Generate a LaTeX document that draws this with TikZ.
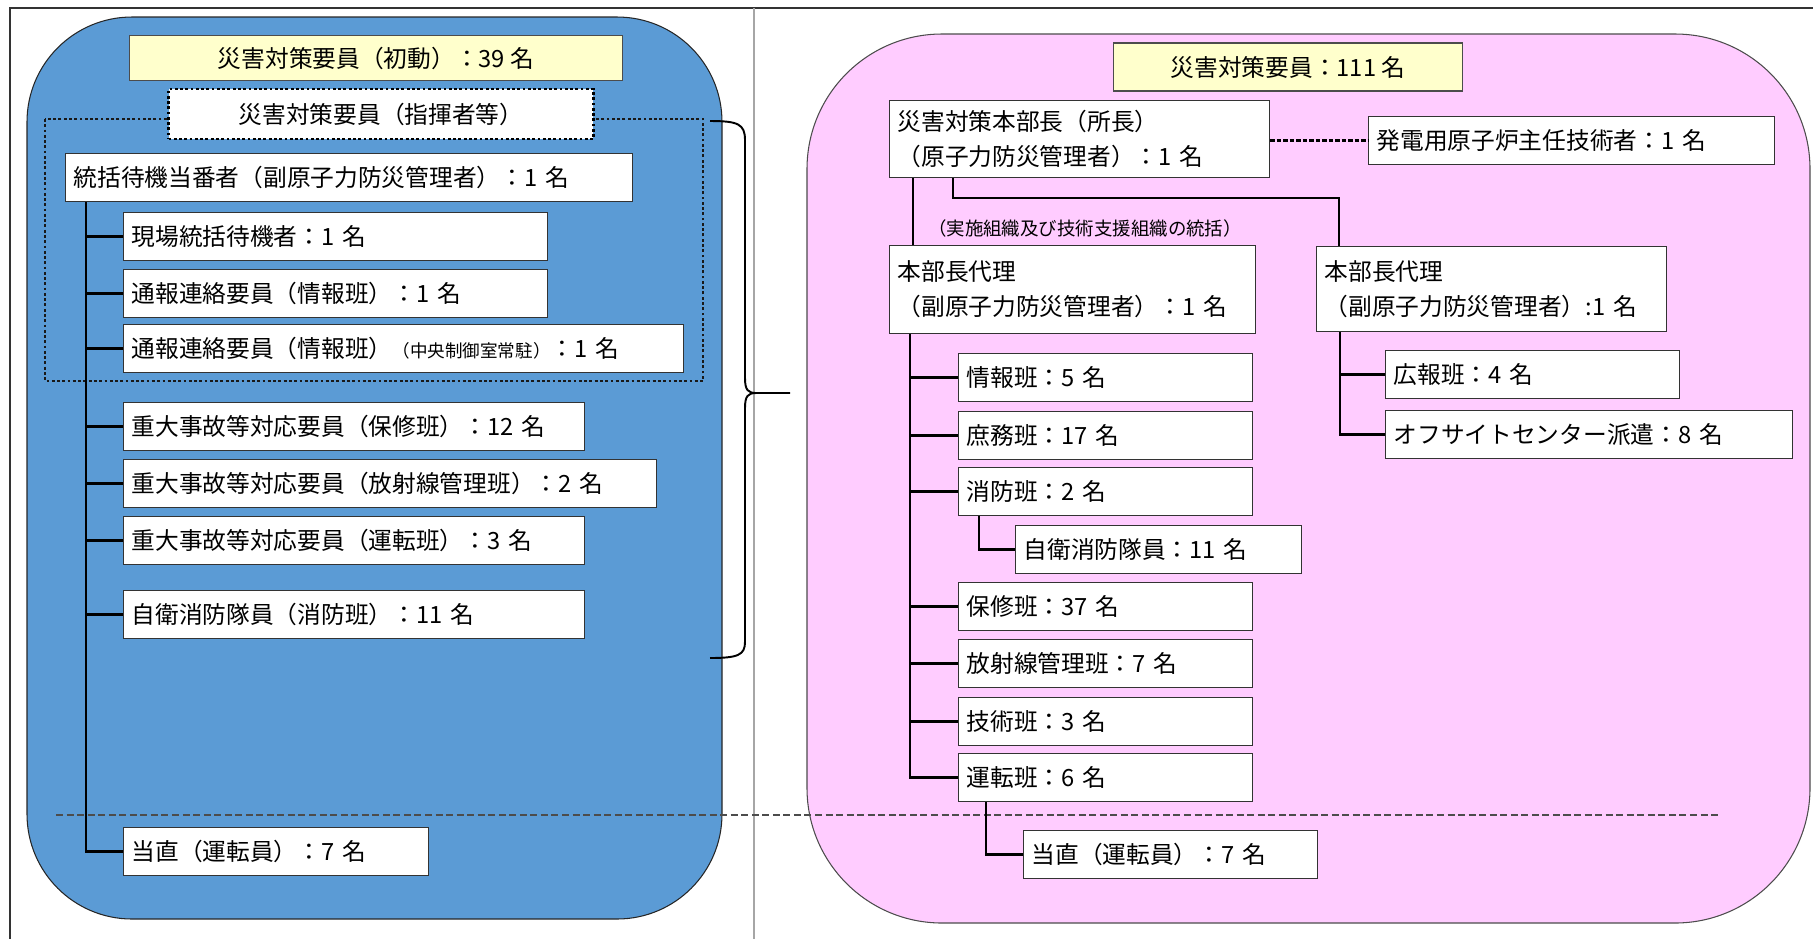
\documentclass[tikz,border=0pt]{standalone}
\usepackage{fontspec}
\setmainfont{Noto Sans CJK JP}
\usetikzlibrary{positioning,calc}

\definecolor{panelblue}{RGB}{91,155,213}
\definecolor{panelpink}{RGB}{255,204,255}
\definecolor{titleyellow}{RGB}{255,255,204}

\begin{document}
\begin{tikzpicture}[x=0.02cm, y=-0.02cm,
    box/.style={draw=black!80, fill=white, line width=0.7pt, anchor=north west, align=left, inner xsep=0.16cm, inner ysep=0pt, minimum height=0.96cm, font=\fontsize{13.5}{20}\selectfont},
    title/.style={draw=black!70, fill=titleyellow, line width=0.7pt, minimum height=0.9cm, font=\fontsize{13.5}{16}\selectfont},
    cmdbox/.style={draw=black, fill=white, line width=1.6pt, dash pattern=on 1.6pt off 1.4pt, minimum width=8.5cm, minimum height=1cm, font=\fontsize{13.5}{16}\selectfont},
    dotline/.style={draw=black!90, line width=1.6pt, dash pattern=on 1.6pt off 1.4pt},
    link/.style={line width=1.3pt},
    thinlink/.style={line width=0.9pt},
    chieflink/.style={line width=1.3pt, dash pattern=on 2.5pt off 1.2pt},
    sepline/.style={black!70, line width=1pt, dash pattern=on 4pt off 2pt},
]
  \useasboundingbox (0,0) rectangle (1813,938);
  \draw[black!80, line width=0.6pt] (1830,8) -- (10,8) -- (10,950);
  \draw[gray!70, line width=0.6pt] (754,8) -- (754,950);

  % panels
  \draw[black!85, line width=0.6pt, fill=panelblue, rounded corners=2.1cm] (27,17) rectangle (722,919);
  \draw[black!70, line width=0.6pt, fill=panelpink, rounded corners=2.7cm] (807,34) rectangle (1810,923);

  \coordinate (sepL) at (56,815);
  \coordinate (sepR) at (1720,815);
  \draw[sepline] (sepL) -- (sepR);

  % left: initial response
  \node[title, minimum width=9.86cm] (initL) at (376,58) {災害対策要員（初動）：39 名};
  \draw[dotline] (45,119) rectangle (703,381);
  \node[cmdbox] (cmd) at (381,114) {災害対策要員（指揮者等）};

  \node[box, text width=11.02cm] (lead) at (65,153) {統括待機当番者（副原子力防災管理者）：1 名};
  \node[box, text width=8.16cm] (g1) at (123,212) {現場統括待機者：1 名};
  \node[box, text width=8.16cm] (g2) at (123,269) {通報連絡要員（情報班）：1 名};
  \node[box, text width=10.88cm] (g3) at (123,324) {通報連絡要員（情報班）{\fontsize{10}{12}\selectfont（中央制御室常駐）}：1 名};
  \node[box, text width=8.90cm] (g4) at (123,402) {重大事故等対応要員（保修班）：12 名};
  \node[box, text width=10.34cm] (g5) at (123,459) {重大事故等対応要員（放射線管理班）：2 名};
  \node[box, text width=8.90cm] (g6) at (123,516) {重大事故等対応要員（運転班）：3 名};
  \node[box, text width=8.90cm] (g7) at (123,590) {自衛消防隊員（消防班）：11 名};
  \node[box, text width=5.78cm] (g8) at (123,827) {当直（運転員）：7 名};

  \foreach \n in {g1,g2,g3,g4,g5,g6,g7,g8}
    \draw[link] ([xshift=0.42cm]lead.south west) |- (\n.west);

  % brace
  \draw[line width=1.1pt] (710,121) .. controls (738,121) and (745,124) .. (745,140) -- (745,378)
    .. controls (745,390) and (748,393) .. (756,393) -- (790,393);
  \draw[line width=1.1pt] (756,393) .. controls (748,393) and (745,396) .. (745,408) -- (745,642)
    .. controls (745,655) and (738,658) .. (710,658);

  % right: full organisation
  \node[title, minimum width=6.98cm, minimum height=0.96cm] (initR) at (1288,67) {災害対策要員：111 名};
  \node[box, text width=7.28cm, minimum height=1.54cm] (head) at (889,100) {災害対策本部長（所長）\\（原子力防災管理者）：1 名};
  \node[box, text width=7.80cm] (chief) at (1368,116) {発電用原子炉主任技術者：1 名};
  \node[box, text width=7.0cm, minimum height=1.76cm] (depL) at (889,245) {本部長代理\\（副原子力防災管理者）：1 名};
  \node[box, text width=6.68cm, minimum height=1.7cm] (depR) at (1316,246) {本部長代理\\（副原子力防災管理者）:1 名};
  \node[font=\fontsize{10.5}{12}\selectfont] (note) at (1085,228) {（実施組織及び技術支援組織の統括）};

  \node[box, text width=5.56cm] (info) at (958,353) {情報班：5 名};
  \node[box, text width=5.56cm] (gen) at (958,411) {庶務班：17 名};
  \node[box, text width=5.56cm] (fire) at (958,467) {消防班：2 名};
  \node[box, text width=5.40cm] (selfL) at (1015,525) {自衛消防隊員：11 名};
  \node[box, text width=5.56cm] (maint) at (958,582) {保修班：37 名};
  \node[box, text width=5.56cm] (rad) at (958,639) {放射線管理班：7 名};
  \node[box, text width=5.56cm] (tecteam) at (958,697) {技術班：3 名};
  \node[box, text width=5.56cm] (ops) at (958,753) {運転班：6 名};
  \node[box, text width=5.56cm] (dutyR) at (1023,830) {当直（運転員）：7 名};

  \node[box, text width=5.56cm] (pr) at (1385,350) {広報班：4 名};
  \node[box, text width=7.82cm] (off) at (1385,410) {オフサイトセンター派遣：8 名};

  \draw[chieflink] (chief.west -| head.east) -- (chief.west);
  \draw[thinlink] ([xshift=0.48cm]head.south west) -- ([xshift=0.48cm]depL.north west);
  \draw[thinlink] ([xshift=1.28cm]head.south west) -- ++(0,20) -| ([xshift=0.46cm]depR.north west);

  \foreach \n in {info,gen,fire,maint,rad,tecteam,ops}
    \draw[link] ([xshift=0.42cm]depL.south west) |- (\n.west);
  \draw[link] ([xshift=0.42cm]fire.south west) |- (selfL.west);
  \draw[link] ([xshift=0.56cm]ops.south west) |- (dutyR.west);
  \foreach \n in {pr,off}
    \draw[link] ([xshift=0.48cm]depR.south west) |- (\n.west);
\end{tikzpicture}
\end{document}
